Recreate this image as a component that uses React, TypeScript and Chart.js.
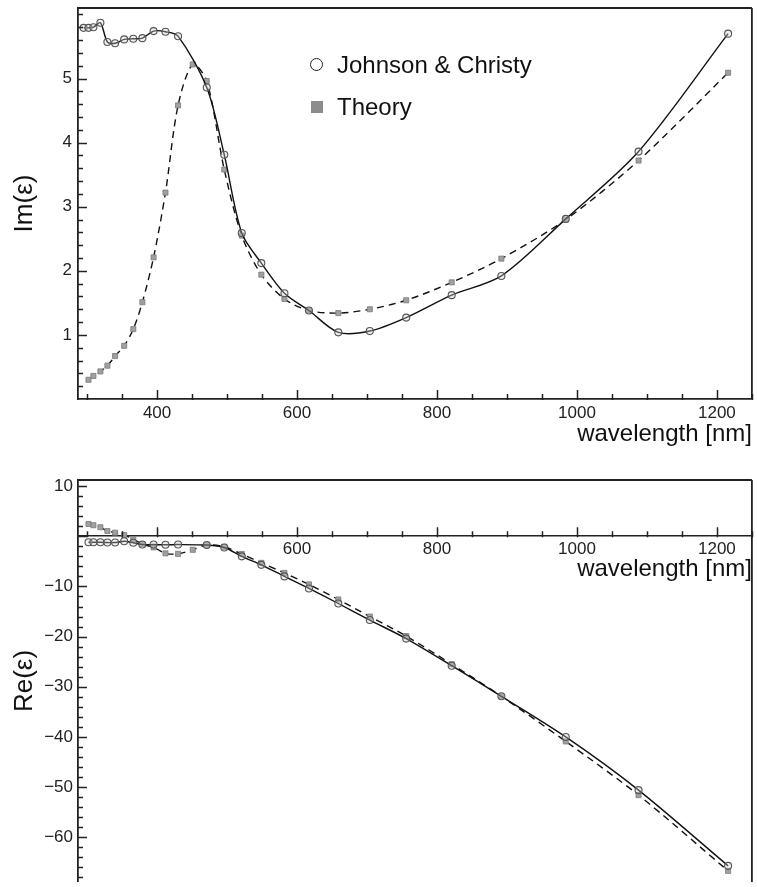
import React, { useEffect, useRef } from "react";
import { Chart, registerables } from "chart.js";

Chart.register(...registerables);

const FONT = "'Liberation Sans', Arial, Helvetica, sans-serif";

// wavelengths [nm]
const wavelengths = [295, 302, 309, 319, 329, 340, 353, 366, 379, 395, 412, 430, 451, 471, 496, 521, 549, 582, 617, 659, 704, 756, 821, 892, 984, 1088, 1216];

// Im(eps)
const imJohnsonChristy = [5.79, 5.79, 5.8, 5.87, 5.57, 5.55, 5.61, 5.62, 5.63, 5.74, 5.73, 5.66, null, 4.86, 3.81, 2.59, 2.12, 1.65, 1.38, 1.04, 1.06, 1.27, 1.62, 1.92, 2.81, 3.86, 5.7];
const imTheory = [null, 0.3, 0.36, 0.43, 0.52, 0.67, 0.83, 1.09, 1.51, 2.21, 3.22, 4.58, 5.22, 4.96, 3.58, 2.55, 1.94, 1.56, 1.38, 1.34, 1.4, 1.54, 1.82, 2.19, 2.8, 3.72, 5.09];

// Re(eps)
const reJohnsonChristy = [null, -1.2, -1.2, -1.2, -1.25, -1.25, -1.0, -1.3, -1.65, -1.65, -1.7, -1.65, null, -1.75, -2.23, -4.0, -5.7, -8.0, -10.4, -13.4, -16.7, -20.4, -25.8, -31.9, -40.0, -50.6, -65.7];
const reTheory = [null, 2.45, 2.2, 1.8, 1.05, 0.72, 0.25, -0.6, -1.57, -2.2, -3.4, -3.5, -2.7, -1.75, -2.1, -3.54, -5.3, -7.3, -9.6, -12.6, -16.0, -19.9, -25.5, -31.9, -40.9, -51.6, -66.7];

// ticks
const xMajorTicks = [400, 600, 800, 1000, 1200];
const reXTickLabels = [600, 800, 1000, 1200];
const imYTicks = [1, 2, 3, 4, 5];
const reYTicks = [10, -10, -20, -30, -40, -50, -60];

const X_MIN = 287;
const X_MAX = 1250;

function toPoints(values: (number | null)[]) {
  return wavelengths.map((w, i) => ({ x: w, y: values[i] }));
}

function jcDataset(values: (number | null)[]) {
  return {
    label: "Johnson & Christy",
    data: toPoints(values),
    borderColor: "#111",
    borderWidth: 1.4,
    tension: 0.3,
    spanGaps: true,
    pointStyle: "circle",
    pointRadius: 3.5,
    pointBorderColor: "#555",
    pointBackgroundColor: "rgba(210,210,210,0.35)",
    pointBorderWidth: 1.1,
    order: 0,
  };
}

function theoryDataset(values: (number | null)[]) {
  return {
    label: "Theory",
    data: toPoints(values),
    borderColor: "#111",
    borderWidth: 1.4,
    borderDash: [7, 5],
    tension: 0.3,
    spanGaps: true,
    pointStyle: "rect",
    pointRadius: 3.6,
    pointBorderColor: "#7a7a7a",
    pointBackgroundColor: "#a0a0a0",
    pointBorderWidth: 0.8,
    order: 1,
  };
}

function framePlugin(opts: {
  yMajor: number[];
  yMinorStep: number;
  yMin: number;
  yMax: number;
  xAxisValue: number | null;
}) {
  return {
    id: "frameTicks",
    afterDraw(chart: any) {
      const { ctx, chartArea } = chart;
      const xs = chart.scales.x;
      const ys = chart.scales.y;
      const { left, right, top, bottom } = chartArea;
      ctx.save();
      ctx.setLineDash([]);
      ctx.strokeStyle = "#222";
      // frame
      ctx.lineWidth = 1.8;
      ctx.beginPath();
      ctx.moveTo(left, top);
      ctx.lineTo(right, top);
      ctx.moveTo(right, top);
      ctx.lineTo(right, bottom);
      ctx.stroke();
      // y ticks (inward)
      ctx.lineWidth = 1.5;
      ctx.beginPath();
      const start = Math.ceil(opts.yMin / opts.yMinorStep);
      const end = Math.floor(opts.yMax / opts.yMinorStep);
      for (let k = start; k <= end; k++) {
        const v = k * opts.yMinorStep;
        if (v <= opts.yMin || v >= opts.yMax) continue;
        const py = Math.round(ys.getPixelForValue(v)) + 0.5;
        const major = opts.yMajor.some((m) => Math.abs(m - v) < 1e-6);
        ctx.moveTo(left - 1, py);
        ctx.lineTo(left + (major ? 9 : 5), py);
      }
      // x ticks (inward, upward from axis)
      const axisY = opts.xAxisValue === null ? bottom : ys.getPixelForValue(opts.xAxisValue);
      for (let v = 300; v <= 1250; v += 50) {
        const px = Math.round(xs.getPixelForValue(v)) + 0.5;
        const major = v % 200 === 0;
        ctx.moveTo(px, axisY + 1);
        ctx.lineTo(px, axisY - (major ? 9 : 5));
      }
      ctx.stroke();
      ctx.restore();
    },
  };
}

const tickFont = { family: FONT, size: 17 };
const titleFont = { family: FONT, size: 24 };
const axisTitleFont = { family: FONT, size: 26 };

const plainLabel = (v: number) => (v < 0 ? "\u2212" + Math.abs(v) : String(v));

function topConfig(): any {
  return {
    type: "line",
    data: { datasets: [jcDataset(imJohnsonChristy), theoryDataset(imTheory)] },
    options: {
      animation: false,
      responsive: false,
      layout: { padding: { top: 8, right: 2, left: 0, bottom: 0 } },
      plugins: { legend: { display: false }, tooltip: { enabled: false } },
      scales: {
        x: {
          type: "linear",
          position: "bottom",
          min: X_MIN,
          max: X_MAX,
          afterBuildTicks: (s: any) => {
            s.ticks = xMajorTicks.map((v) => ({ value: v }));
          },
          afterFit: (s: any) => {
            s.height = 56;
            s.paddingLeft = 0;
            s.paddingRight = 0;
          },
          grid: { drawOnChartArea: false, drawTicks: false },
          border: { display: true, color: "#222", width: 1.8 },
          ticks: { padding: 4, font: tickFont, color: "#222", maxRotation: 0, autoSkip: false, callback: plainLabel },
          title: {
            display: true,
            text: "wavelength [nm]",
            align: "end",
            font: titleFont,
            color: "#111",
            padding: { top: 0, bottom: 6.6 },
          },
        },
        y: {
          type: "linear",
          min: 0,
          max: 6.1,
          afterBuildTicks: (s: any) => {
            s.ticks = imYTicks.map((v) => ({ value: v }));
          },
          afterFit: (s: any) => {
            s.width = 78;
            s.paddingTop = 0;
            s.paddingBottom = 0;
          },
          grid: { drawOnChartArea: false, drawTicks: false },
          border: { display: true, color: "#222", width: 1.8 },
          ticks: { padding: 6, font: tickFont, color: "#222", callback: plainLabel },
          title: {
            display: true,
            text: "Im(ε)",
            font: axisTitleFont,
            color: "#111",
            padding: { top: 9.4, bottom: 0 },
          },
        },
      },
    },
    plugins: [framePlugin({ yMajor: imYTicks, yMinorStep: 0.2, yMin: 0, yMax: 6.1, xAxisValue: null })],
  };
}

function bottomConfig(): any {
  return {
    type: "line",
    data: { datasets: [jcDataset(reJohnsonChristy), theoryDataset(reTheory)] },
    options: {
      animation: false,
      responsive: false,
      layout: { padding: { top: 25, right: 2, left: 0, bottom: 0 } },
      plugins: { legend: { display: false }, tooltip: { enabled: false } },
      scales: {
        x: {
          type: "linear",
          position: { y: 0 },
          min: X_MIN,
          max: X_MAX,
          afterBuildTicks: (s: any) => {
            s.ticks = reXTickLabels.map((v) => ({ value: v }));
          },
          afterFit: (s: any) => {
            s.height = 0;
            s.paddingLeft = 0;
            s.paddingRight = 0;
          },
          grid: { drawOnChartArea: false, drawTicks: false },
          border: { display: true, color: "#222", width: 1.6 },
          ticks: { padding: 3, font: tickFont, color: "#222", maxRotation: 0, autoSkip: false, callback: plainLabel },
          title: {
            display: true,
            text: "wavelength [nm]",
            align: "end",
            font: titleFont,
            color: "#111",
            padding: { top: 0, bottom: -47.4 },
          },
        },
        y: {
          type: "linear",
          min: -68.9,
          max: 11.22,
          afterBuildTicks: (s: any) => {
            s.ticks = reYTicks.map((v) => ({ value: v }));
          },
          afterFit: (s: any) => {
            s.width = 78;
            s.paddingTop = 0;
            s.paddingBottom = 0;
          },
          grid: { drawOnChartArea: false, drawTicks: false },
          border: { display: true, color: "#222", width: 1.8 },
          ticks: { padding: 5, font: tickFont, color: "#222", callback: plainLabel },
          title: {
            display: true,
            text: "Re(ε)",
            font: axisTitleFont,
            color: "#111",
            padding: { top: 9.4, bottom: 0 },
          },
        },
      },
    },
    plugins: [framePlugin({ yMajor: [10, 0, -10, -20, -30, -40, -50, -60], yMinorStep: 2, yMin: -68.9, yMax: 11.22, xAxisValue: 0 })],
  };
}

export default function App() {
  const topRef = useRef<HTMLCanvasElement>(null);
  const botRef = useRef<HTMLCanvasElement>(null);

  useEffect(() => {
    const c1 = new Chart(topRef.current as HTMLCanvasElement, topConfig());
    const c2 = new Chart(botRef.current as HTMLCanvasElement, bottomConfig());
    return () => {
      c1.destroy();
      c2.destroy();
    };
  }, []);

  const legendText: React.CSSProperties = {
    position: "absolute",
    left: 337,
    fontFamily: FONT,
    fontSize: 24,
    lineHeight: "28px",
    color: "#111",
    whiteSpace: "nowrap",
  };

  return (
    <div style={{ position: "absolute", left: 0, top: 0, width: 757, height: 887, background: "#fff", overflow: "hidden" }}>
      <canvas ref={topRef} width={757} height={455} style={{ position: "absolute", left: 0, top: 0 }} />
      <canvas ref={botRef} width={757} height={432} style={{ position: "absolute", left: 0, top: 455 }} />
      <div
        style={{
          position: "absolute",
          left: 310,
          top: 58,
          width: 11,
          height: 11,
          borderRadius: "50%",
          border: "1.6px solid #222",
        }}
      />
      <div style={{ ...legendText, top: 51 }}>Johnson &amp; Christy</div>
      <div
        style={{
          position: "absolute",
          left: 311,
          top: 101,
          width: 12,
          height: 12,
          background: "#8c8c8c",
        }}
      />
      <div style={{ ...legendText, top: 93 }}>Theory</div>
    </div>
  );
}
